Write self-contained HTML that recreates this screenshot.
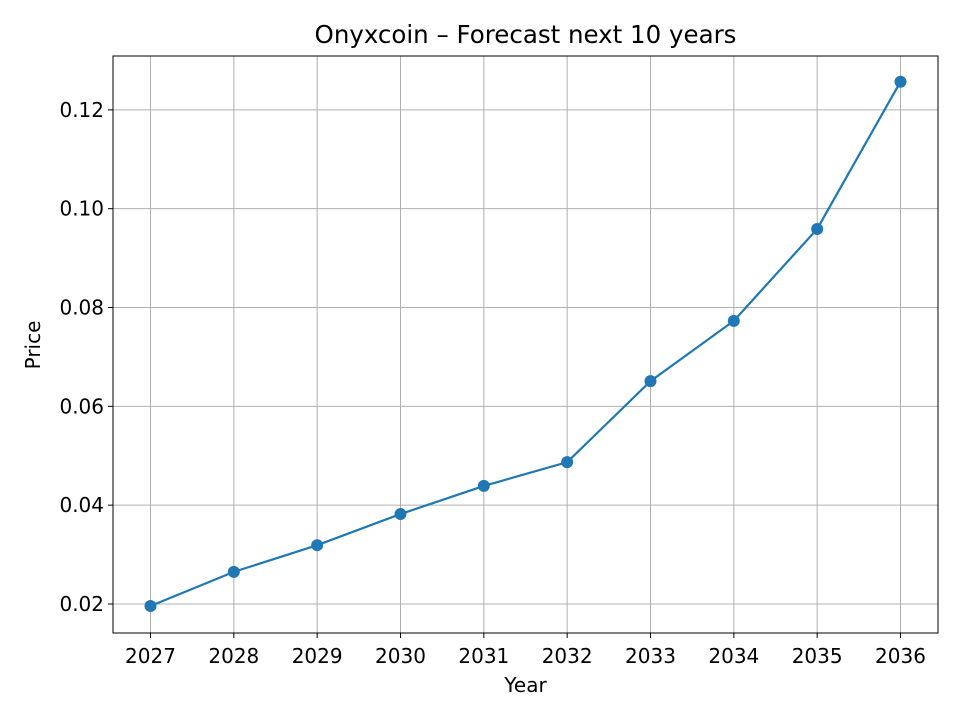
<!DOCTYPE html>
<html><head><meta charset="utf-8"><style>
body{margin:0;background:#fff;}
svg text{font-family:"DejaVu Sans","Liberation Sans",sans-serif;fill:#000;}
</style></head><body>
<svg id="chart" width="960" height="720" xmlns="http://www.w3.org/2000/svg">
<rect width="960" height="720" fill="#fff"/>
<g id="grid"></g>
<g id="ticks"></g>
<g id="series"></g>
<rect x="113" y="56" width="825" height="577" fill="none" stroke="#000" stroke-width="1"/>
<text x="525.5" y="43" text-anchor="middle" font-size="24.5">Onyxcoin – Forecast next 10 years</text>
<text x="525.5" y="692" text-anchor="middle" font-size="20">Year</text>
<text transform="translate(40,345) rotate(-90)" text-anchor="middle" font-size="20">Price</text>
</svg>
<script>
const years=[2027,2028,2029,2030,2031,2032,2033,2034,2035,2036];
const prices=[0.0196,0.0265,0.0319,0.0382,0.0439,0.0487,0.0651,0.0773,0.0959,0.1257];
const yTicks=[0.02,0.04,0.06,0.08,0.10,0.12];
const yTickLabels=["0.02","0.04","0.06","0.08","0.10","0.12"];
const L=113,R=938,T=56,B=633;
const xMin=2026.55,xMax=2036.45,yMin=0.01413,yMax=0.1309;
const xs=v=>L+(v-xMin)/(xMax-xMin)*(R-L);
const ys=v=>B-(v-yMin)/(yMax-yMin)*(B-T);
const NS="http://www.w3.org/2000/svg";
function mk(tag,attrs,parent){const e=document.createElementNS(NS,tag);for(const k in attrs)e.setAttribute(k,attrs[k]);parent.appendChild(e);return e;}
const grid=document.getElementById('grid'),ticks=document.getElementById('ticks'),series=document.getElementById('series');
years.forEach(y=>{const x=xs(y);
 const g=mk('line',{x1:x,x2:x,y1:T,y2:B,stroke:'#b0b0b0','stroke-width':1},grid);
 
 const t=mk('line',{x1:x,x2:x,y1:B,y2:B+5,stroke:'#000'},ticks);
 
 const l=mk('text',{x:x,y:B+30,'text-anchor':'middle','font-size':20},ticks);l.textContent=y;
 
});
yTicks.forEach((v,i)=>{const y=ys(v);
 const g=mk('line',{x1:L,x2:R,y1:y,y2:y,stroke:'#b0b0b0','stroke-width':1},grid);
 
 const t=mk('line',{x1:L-5,x2:L,y1:y,y2:y,stroke:'#000'},ticks);
 
 const l=mk('text',{x:L-9,y:y+7,'text-anchor':'end','font-size':20},ticks);l.textContent=yTickLabels[i];
 
});
const pl=mk('polyline',{points:years.map((y,i)=>xs(y)+','+ys(prices[i])).join(' '),fill:'none',stroke:'#1f77b4','stroke-width':2.2},series);

years.forEach((y,i)=>{const c=mk('circle',{cx:xs(y),cy:ys(prices[i]),r:6,fill:'#1f77b4'},series);
 });
</script>
</body></html>
